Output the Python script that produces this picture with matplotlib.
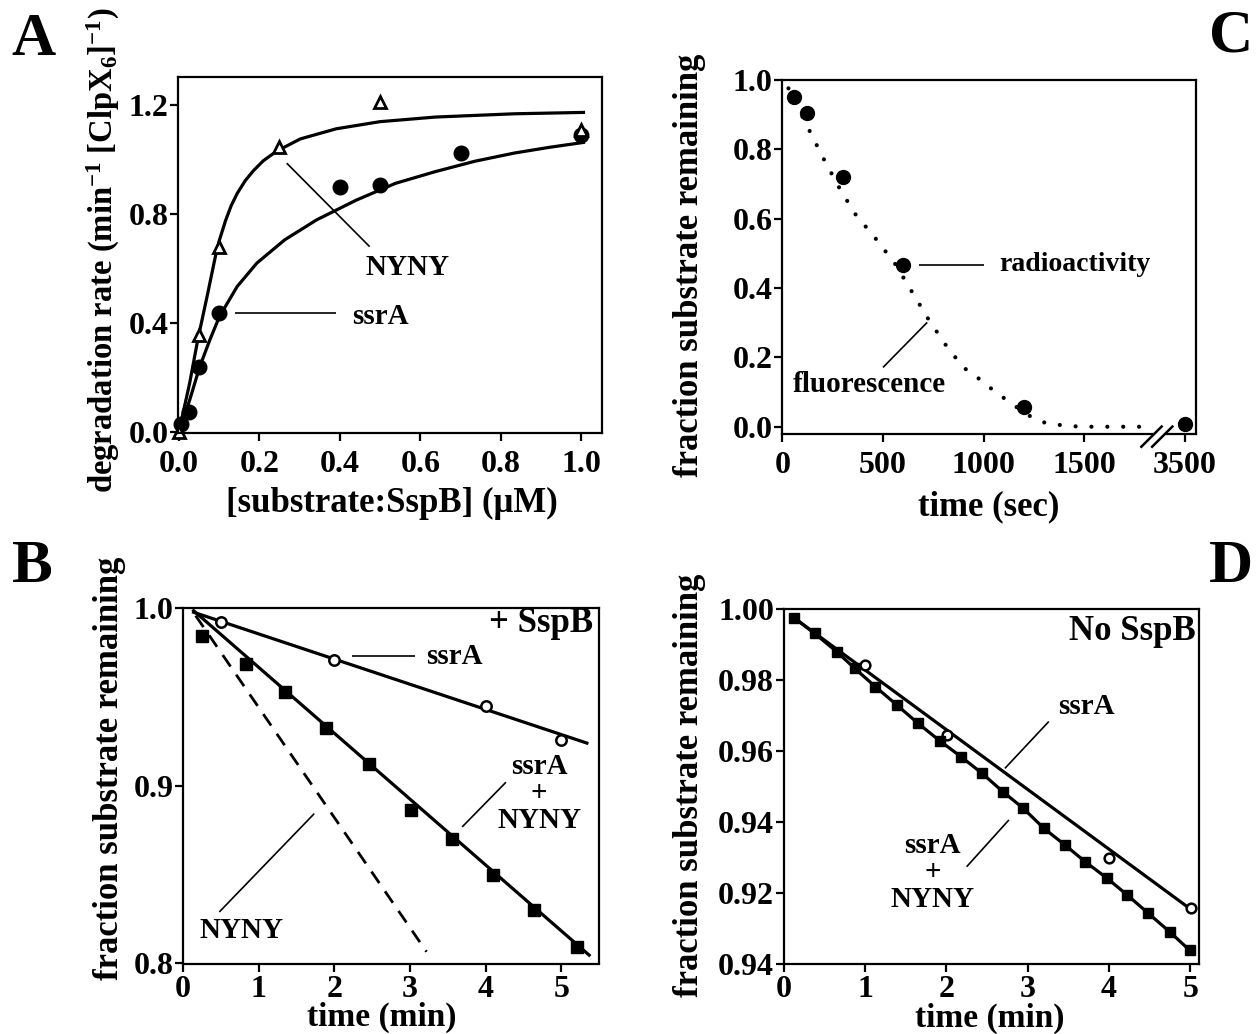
import numpy as np
import matplotlib
matplotlib.use('Agg')
import matplotlib.pyplot as plt
from matplotlib.patches import Rectangle

# ---------------- data ----------------
# Panel A: degradation rate vs [substrate:SspB]
a_conc_ssrA = [0.005, 0.025, 0.05, 0.10, 0.40, 0.50, 0.70, 1.00]
a_rate_ssrA = [0.03, 0.075, 0.24, 0.436, 0.90, 0.907, 1.025, 1.09]
a_conc_nyny = [0.0, 0.05, 0.10, 0.25, 0.50, 1.00]
a_rate_nyny = [0.0, 0.357, 0.68, 1.047, 1.212, 1.108]
a_fit_ssrA_x = [0, 0.027, 0.052, 0.077, 0.101, 0.145, 0.194, 0.263, 0.342, 0.44,
                0.538, 0.637, 0.735, 0.833, 0.92, 1.005]
a_fit_ssrA_y = [0, 0.118, 0.24, 0.338, 0.424, 0.534, 0.62, 0.705, 0.778, 0.85,
                0.912, 0.955, 0.993, 1.023, 1.044, 1.062]
a_fit_nyny_x = [0, 0.027, 0.047, 0.072, 0.091, 0.10, 0.116, 0.13, 0.145, 0.165,
                0.185, 0.21, 0.243, 0.302, 0.391, 0.499, 0.637, 0.833, 1.005]
a_fit_nyny_y = [0, 0.18, 0.338, 0.51, 0.645, 0.70, 0.775, 0.83, 0.875, 0.922,
                0.958, 0.995, 1.03, 1.075, 1.112, 1.138, 1.155, 1.167, 1.172]
a_xticks = [0.0, 0.2, 0.4, 0.6, 0.8, 1.0]
a_yticks = [0.0, 0.4, 0.8, 1.2]

# Panel B: + SspB
b_t_ssrA = [0.5, 2.0, 4.0, 5.0]
b_f_ssrA = [0.992, 0.9705, 0.945, 0.926]
b_fit_ssrA_x = [0.14, 5.34]
b_fit_ssrA_y = [0.9976, 0.924]
b_t_mix = [0.256, 0.83, 1.353, 1.897, 2.456, 3.015, 3.563, 4.10, 4.645, 5.21]
b_f_mix = [0.9845, 0.9685, 0.9526, 0.9324, 0.9124, 0.8861, 0.8702, 0.8496, 0.830, 0.8094]
b_fit_mix_x = [0.14, 5.37]
b_fit_mix_y = [0.9985, 0.8047]
b_nyny_x = [0.167, 3.22]
b_nyny_y = [0.9957, 0.8066]
b_xticks = [0, 1, 2, 3, 4, 5]
b_yticks = [0.8, 0.9, 1.0]

# Panel C: radioactivity vs fluorescence
c_t_radio = [60, 120, 300, 600, 1200, 3500]
c_f_radio = [0.952, 0.904, 0.72, 0.465, 0.056, 0.009]
c_t_fluor = [30, 100, 200, 280, 360, 470, 560, 640, 730, 820, 900, 990, 1040,
             1140, 1240, 1320, 1480, 1820]
c_f_fluor = [0.976, 0.894, 0.778, 0.692, 0.615, 0.538, 0.470, 0.393, 0.306,
             0.229, 0.171, 0.133, 0.109, 0.066, 0.027, 0.008, 0.0, 0.0]
c_xtick_vals = [0, 500, 1000, 1500, 3500]
c_yticks = [0.0, 0.2, 0.4, 0.6, 0.8, 1.0]

# Panel D: no SspB
d_t_ssrA = [0.996, 2.007, 4.004, 5.005]
d_f_ssrA = [0.9842, 0.9645, 0.9298, 0.9157]
d_fit_ssrA_x = [0.1, 5.0]
d_fit_ssrA_y = [0.998, 0.9155]
d_t_mix = [0.133, 0.38, 0.651, 0.873, 1.129, 1.39, 1.652, 1.918, 2.18, 2.44,
           2.697, 2.944, 3.20, 3.46, 3.708, 3.979, 4.226, 4.482, 4.744, 4.99]
d_f_mix = [0.9974, 0.99315, 0.988, 0.9833, 0.9781, 0.973, 0.9678, 0.9629, 0.9584,
           0.9537, 0.9485, 0.9439, 0.9382, 0.9335, 0.9288, 0.9241, 0.9194, 0.9143,
           0.9091, 0.9039]
d_fit_mix_x = [0.1, 5.0]
d_fit_mix_y = [0.998, 0.9035]
d_xticks = [0, 1, 2, 3, 4, 5]
d_yticks = [0.90, 0.92, 0.94, 0.96, 0.98, 1.00]
d_ytick_labels = ['0.94', '0.92', '0.94', '0.96', '0.98', '1.00']

mix_label = 'ssrA\n+\nNYNY'

# ---------------- style ----------------
plt.rcParams['font.family'] = ['Liberation Serif', 'DejaVu Serif']
plt.rcParams['font.weight'] = 'bold'
plt.rcParams['mathtext.fontset'] = 'custom'
plt.rcParams['mathtext.rm'] = 'Liberation Serif:bold'
plt.rcParams['mathtext.it'] = 'Liberation Serif:bold'
plt.rcParams['mathtext.bf'] = 'Liberation Serif:bold'

W, H = 1259, 1034
fig = plt.figure(figsize=(W / 100, H / 100), dpi=100)
fig.patch.set_facecolor('white')

TICK_FS = 23
LABEL_FS = 25
ANN_FS = 21
LW_FIT = 2.3
LW_LEAD = 1.2


def px(x, y):
    return x / W, 1 - y / H


def make_ax(l, t, r, b, xpad=6):
    ax = fig.add_axes([l / W, 1 - b / H, (r - l) / W, (b - t) / H])
    for s in ax.spines.values():
        s.set_linewidth(1.6)
    ax.tick_params(direction='out', length=6, width=1.6, labelsize=TICK_FS)
    ax.tick_params(axis='y', pad=1)
    ax.tick_params(axis='x', pad=xpad)
    return ax


def lead(ax, x, y):
    ax.plot(x, y, color='black', lw=LW_LEAD, clip_on=False, solid_capstyle='butt')


def ftext(x, y, s, size, rot=0):
    fig.text(*px(x, y), s, fontsize=size, fontweight='bold', rotation=rot,
             ha='center', va='center')


# ---------------- Panel A ----------------
axA = make_ax(178, 77.5, 602, 433)
axA.plot(a_fit_nyny_x, a_fit_nyny_y, color='black', lw=LW_FIT, solid_joinstyle='round')
axA.plot(a_fit_ssrA_x, a_fit_ssrA_y, color='black', lw=LW_FIT, solid_joinstyle='round')
axA.plot(a_conc_ssrA, a_rate_ssrA, 'o', color='black', ms=10.5, clip_on=False)
axA.plot(a_conc_nyny, a_rate_nyny, '^', mfc='white', mec='black', mew=2.0, ms=8.5,
         clip_on=False)
axA.set_xlim(-0.002, 1.051)
axA.set_ylim(-0.003, 1.30)
axA.set_xticks(a_xticks)
axA.set_xticklabels(['%.1f' % v for v in a_xticks])
axA.set_yticks(a_yticks)
axA.set_yticklabels(['%.1f' % v for v in a_yticks])
axA.text(0.567, 0.605, 'NYNY', fontsize=ANN_FS, fontweight='bold', ha='center', va='center')
lead(axA, [0.268, 0.474], [0.986, 0.680])
axA.text(0.50, 0.425, 'ssrA', fontsize=ANN_FS, fontweight='bold', ha='center', va='center')
lead(axA, [0.1385, 0.391], [0.436, 0.436])
ftext(103, 250, 'degradation rate (min$^{-1}$ [ClpX$_{6}$]$^{-1}$)', 23.5, rot=90)
ftext(392, 503, '[substrate:SspB] (μM)', LABEL_FS)
ftext(33, 40, 'A', 44)

# ---------------- Panel C ----------------
def break_x(t):
    t = np.asarray(t, dtype=float)
    return np.where(t > 1850, t - 1500, t)

axC = make_ax(782.4, 80, 1196.4, 434)
axC.plot(break_x(c_t_fluor), c_f_fluor, color='black', lw=3.0,
         linestyle=(0, (0.01, 3.8)), dash_capstyle='round')
axC.plot(break_x(c_t_radio), c_f_radio, 'o', color='black', ms=10, clip_on=False)
axC.set_xlim(0, 2058)
axC.set_ylim(-0.021, 1.0)
axC.set_xticks(break_x(c_xtick_vals))
axC.set_xticklabels([str(v) for v in c_xtick_vals])
axC.set_yticks(c_yticks)
axC.set_yticklabels(['%.1f' % v for v in c_yticks])
axC.text(1455, 0.467, 'radioactivity', fontsize=ANN_FS - 1, fontweight='bold',
         ha='center', va='center')
lead(axC, [680, 1000], [0.467, 0.467])
axC.text(430, 0.121, 'fluorescence', fontsize=ANN_FS, fontweight='bold',
         ha='center', va='center')
lead(axC, [500, 720], [0.171, 0.301])
# axis break
axC.add_patch(Rectangle((0.898, -0.02), 0.026, 0.04, transform=axC.transAxes,
                        facecolor='white', edgecolor='none', clip_on=False, zorder=5))
for dx in (0.0, 0.026):
    axC.plot([0.867 + dx, 0.916 + dx], [-0.036, 0.021], color='black', lw=1.8,
             transform=axC.transAxes, clip_on=False, zorder=6)
ftext(690, 265, 'fraction substrate remaining', LABEL_FS, rot=90)
ftext(989, 507, 'time (sec)', LABEL_FS)
ftext(1231, 36, 'C', 44)

# ---------------- Panel B ----------------
axB = make_ax(183, 608, 599, 963.5, xpad=2)
axB.plot(b_fit_ssrA_x, b_fit_ssrA_y, color='black', lw=LW_FIT)
axB.plot(b_fit_mix_x, b_fit_mix_y, color='black', lw=LW_FIT)
axB.plot(b_nyny_x, b_nyny_y, color='black', lw=2.0, dashes=(5, 3.6))
axB.plot(b_t_ssrA, b_f_ssrA, 'o', mfc='white', mec='black', mew=1.8, ms=7.5, clip_on=False)
axB.plot(b_t_mix, b_f_mix, 's', color='black', ms=8, clip_on=False)
axB.set_xlim(0, 5.5)
axB.set_ylim(0.8, 1.0)
axB.set_xticks(b_xticks)
axB.set_xticklabels([str(v) for v in b_xticks])
axB.set_yticks(b_yticks)
axB.set_yticklabels(['%.1f' % v for v in b_yticks])
axB.text(4.74, 0.991, '+ SspB', fontsize=LABEL_FS, fontweight='bold', ha='center', va='center')
axB.text(3.59, 0.9729, 'ssrA', fontsize=ANN_FS, fontweight='bold', ha='center', va='center')
lead(axB, [2.23, 3.07], [0.9732, 0.9732])
axB.text(4.71, 0.8958, mix_label, fontsize=ANN_FS, fontweight='bold', ha='center',
         va='center', multialignment='center', linespacing=1.0)
lead(axB, [4.27, 3.69], [0.902, 0.8768])
axB.text(0.77, 0.8187, 'NYNY', fontsize=ANN_FS, fontweight='bold', ha='center', va='center')
lead(axB, [0.48, 1.735], [0.829, 0.8843])
ftext(110, 768, 'fraction substrate remaining', LABEL_FS, rot=90)
ftext(382, 1017, 'time (min)', 24)
ftext(32, 567, 'B', 44)

# ---------------- Panel D ----------------
axD = make_ax(783.6, 609, 1198.5, 964, xpad=2)
axD.plot(d_fit_ssrA_x, d_fit_ssrA_y, color='black', lw=LW_FIT)
axD.plot(d_t_mix, d_f_mix, color='black', lw=LW_FIT)
axD.plot(d_t_ssrA, d_f_ssrA, 'o', mfc='white', mec='black', mew=1.8, ms=7, clip_on=False)
axD.plot(d_t_mix, d_f_mix, 's', color='black', ms=7, clip_on=False)
axD.set_xlim(0, 5.10)
axD.set_ylim(0.90, 1.00)
axD.set_xticks(d_xticks)
axD.set_xticklabels([str(v) for v in d_xticks])
axD.set_yticks(d_yticks)
axD.set_yticklabels(d_ytick_labels)
axD.text(4.29, 0.9938, 'No SspB', fontsize=LABEL_FS, fontweight='bold', ha='center', va='center')
axD.text(3.72, 0.9724, 'ssrA', fontsize=ANN_FS, fontweight='bold', ha='center', va='center')
lead(axD, [3.26, 2.72], [0.9683, 0.9551])
axD.text(1.83, 0.9258, mix_label, fontsize=ANN_FS, fontweight='bold', ha='center',
         va='center', multialignment='center', linespacing=1.0)
lead(axD, [2.25, 2.77], [0.9274, 0.9406])
ftext(690, 785, 'fraction substrate remaining', LABEL_FS, rot=90)
ftext(990, 1018, 'time (min)', 24)
ftext(1231, 567, 'D', 44)

fig.savefig('out.png', dpi=100, facecolor='white')
